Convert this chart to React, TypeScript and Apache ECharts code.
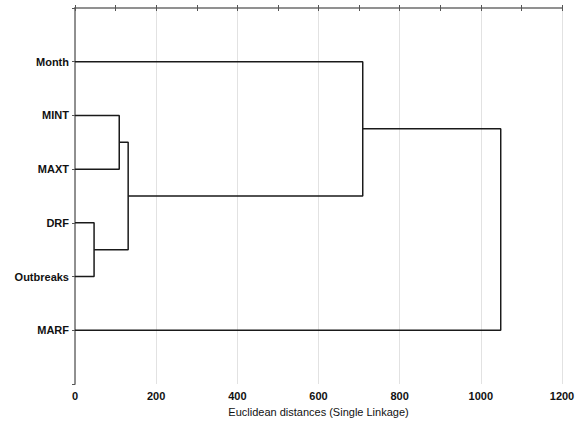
import React, { useEffect, useRef } from "react";
import * as echarts from "echarts";

const leaves = ["Month", "MINT", "MAXT", "DRF", "Outbreaks", "MARF"];
const leafPositions = [1, 2, 3, 4, 5, 6];
// merges: cluster ids; leaves are 0..5, new clusters numbered 6, 7, 8, 9, 10
const mergeLeft = [1, 3, 6, 0, 9];
const mergeRight = [2, 4, 7, 8, 5];
const mergeHeights = [109, 47, 131, 709, 1049];
const xTicks = [0, 200, 400, 600, 800, 1000, 1200];

function buildSegments() {
  const ys: number[] = [...leafPositions];
  const hs: number[] = leaves.map(() => 0);
  const segs: number[][][] = [];
  for (let i = 0; i < mergeHeights.length; i++) {
    const a = mergeLeft[i];
    const b = mergeRight[i];
    const h = mergeHeights[i];
    segs.push([
      [hs[a], ys[a]],
      [h, ys[a]],
      [h, ys[b]],
      [hs[b], ys[b]],
    ]);
    ys.push((ys[a] + ys[b]) / 2);
    hs.push(h);
  }
  return segs;
}

export default function App() {
  const ref = useRef<HTMLDivElement>(null);
  useEffect(() => {
    const chart = echarts.init(ref.current!, null, { renderer: "svg" });
    const segs = buildSegments();
    const axisColor = "#8a8a8a";
    const font = "Liberation Sans, Arial, sans-serif";
    chart.setOption({
      animation: false,
      backgroundColor: "#ffffff",
      grid: { left: 75, right: 22, top: 8, bottom: 44, containLabel: false },
      xAxis: [
        {
          type: "value",
          position: "bottom",
          min: xTicks[0],
          max: xTicks[xTicks.length - 1],
          interval: 200,
          name: "Euclidean distances (Single Linkage)",
          nameLocation: "middle",
          nameGap: 22,
          nameTextStyle: { color: "#111", fontSize: 11, fontFamily: font },
          axisLine: { show: true, lineStyle: { color: axisColor, width: 1.5 } },
          axisTick: { show: true, inside: true, length: 3, lineStyle: { color: "#555" } },
          minorTick: { show: true, splitNumber: 2, length: 3, lineStyle: { color: "#555" } },
          axisLabel: {
            color: "#111",
            fontSize: 11,
            fontWeight: "bold",
            fontFamily: font,
            margin: 6,
            formatter: (v: number) => String(v),
          },
          splitLine: { show: true, lineStyle: { color: "#e2e2e2", width: 1 } },
        },
        {
          type: "value",
          position: "top",
          min: xTicks[0],
          max: xTicks[xTicks.length - 1],
          interval: 200,
          axisLine: { show: true, lineStyle: { color: axisColor, width: 1.5 } },
          axisTick: { show: true, inside: true, length: 3, lineStyle: { color: "#555" } },
          minorTick: { show: true, splitNumber: 2, length: 3, lineStyle: { color: "#555" } },
          axisLabel: { show: false },
          splitLine: { show: false },
        },
      ],
      yAxis: [
        {
          type: "value",
          position: "left",
          inverse: true,
          min: 0,
          max: 7,
          interval: 1,
          axisLine: { show: true, lineStyle: { color: axisColor, width: 1.5 } },
          axisTick: { show: false },
          axisLabel: {
            color: "#111",
            fontSize: 11,
            fontWeight: "bold",
            fontFamily: font,
            margin: 6,
            formatter: (v: number) => {
              const idx = leafPositions.indexOf(v);
              return idx >= 0 ? leaves[idx] : "";
            },
          },
          splitLine: { show: false },
        },
        {
          type: "value",
          position: "right",
          inverse: true,
          min: 0,
          max: 7,
          interval: 1,
          axisLine: { show: true, lineStyle: { color: axisColor, width: 1.5 } },
          axisTick: { show: true, inside: true, length: 3, lineStyle: { color: "#555" } },
          axisLabel: { show: false },
          splitLine: { show: false },
        },
      ],
      series: segs.map((s) => ({
        type: "line",
        data: s,
        xAxisIndex: 0,
        yAxisIndex: 0,
        showSymbol: false,
        symbol: "none",
        lineStyle: { color: "#1a1a1a", width: 1.5 },
        silent: true,
      })),
    });
    return () => chart.dispose();
  }, []);
  return <div ref={ref} style={{ width: 584, height: 428, position: "absolute", left: 0, top: 0 }} />;
}
